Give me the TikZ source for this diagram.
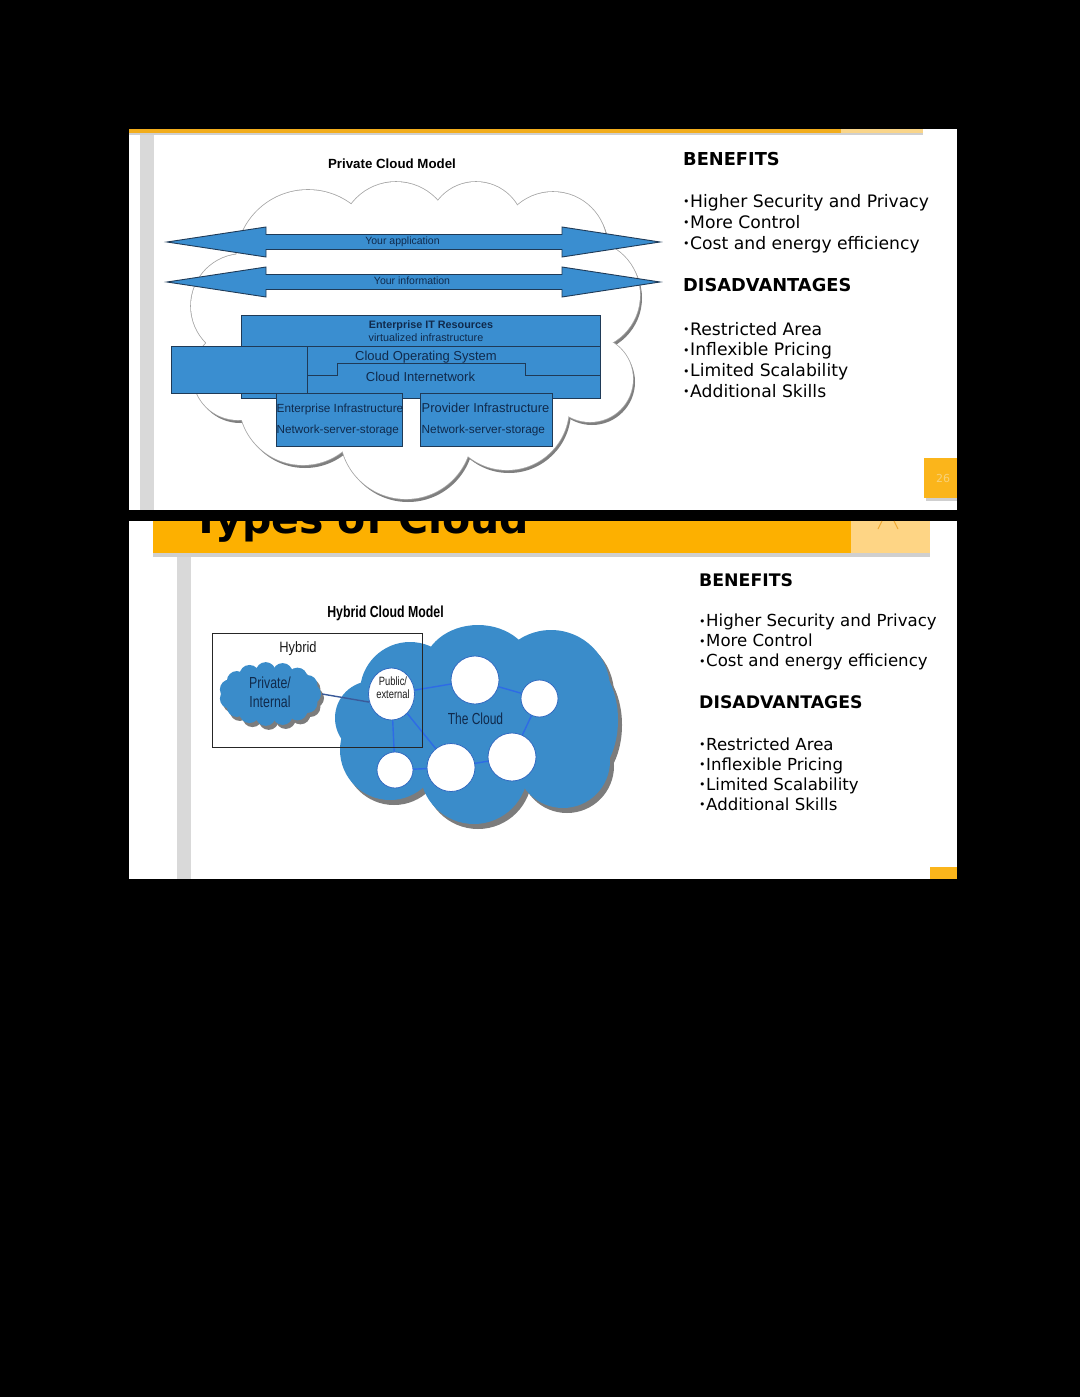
\documentclass[tikz,border=0pt]{standalone}
\usepackage{fontspec}
\usepackage{graphicx}
\setmainfont{DejaVu Sans}
\newfontfamily\arialf{Liberation Sans}
\usetikzlibrary{shapes.geometric}
\definecolor{hdr}{HTML}{FDB000}
\definecolor{hdrlt}{HTML}{FED585}
\definecolor{topline}{HTML}{F2AD1C}
\definecolor{toplinelt}{HTML}{F9D58A}
\definecolor{shad}{HTML}{CFCFCF}
\definecolor{bar}{HTML}{D9D9D9}
\definecolor{pg}{HTML}{FBB51B}
\definecolor{pgtxt}{HTML}{F8D27A}
\definecolor{iconc}{HTML}{F0A830}
\definecolor{boxblue}{HTML}{3A8ED0}
\definecolor{boxedge}{HTML}{1F3A57}
\definecolor{navy}{HTML}{102A4C}
\definecolor{cldline}{HTML}{A6A6A6}
\definecolor{cldshad}{HTML}{7F7F7F}
\definecolor{hyblue}{HTML}{3A8CCA}
\definecolor{hyshad}{HTML}{7C7C7C}
\definecolor{connc}{HTML}{2E6BE6}
\definecolor{linkdark}{HTML}{3A5A9A}
\definecolor{circedge}{HTML}{3068C0}
\definecolor{txtdark}{HTML}{1A1A1A}
\newcommand\bu{\raisebox{0.1em}{\fontsize{11}{11}\selectfont •}\hspace{0.5pt}}
\newcommand\nrw[2]{\scalebox{#1}[1]{#2}}
\tikzset{
  lbl/.style={inner sep=0pt, anchor=base west, text=black},
  dia/.style={inner sep=0pt, anchor=base, text=navy},
  bluebox/.style={fill=boxblue, draw=boxedge, line width=0.9pt},
  wcirc/.style={circle, fill=white, draw=circedge, line width=0.8pt, inner sep=0pt},
  wellip/.style={ellipse, fill=white, draw=circedge, line width=0.8pt, inner sep=0pt},
  link/.style={draw=connc, line width=1.4pt},
  listfontA/.style={font=\fontsize{17.2}{20}\selectfont},
  headfontA/.style={font=\bfseries\fontsize{17.8}{20}\selectfont},
  listfontB/.style={font=\fontsize{16.6}{20}\selectfont},
  headfontB/.style={font=\bfseries\fontsize{17.3}{20}\selectfont},
}
\def\cloudone{308/262/72, 396/238/56, 476/230/48, 553/246/54, 585/295/55, 590/379/43, 507/408/62, 406/433/66, 303/401/64, 238/375/45, 243/306/52}
\def\hybc{410/692/50, 372/718/37, 390/750/50, 551/689/59, 563/761/47, 474/770/54}
\begin{document}
\begin{tikzpicture}[x=1pt,y=-1pt]
\useasboundingbox (0,0) rectangle (1080,1397);
\fill[black] (0,0) rectangle (1080,1397);

%% ================= SLIDE 2 frame =================
\fill[white] (129,521) rectangle (957,879);
\fill[hdr] (153,521) rectangle (851,553);
\fill[hdrlt] (851,521) rectangle (930,553);
\fill[shad] (153,553) rectangle (930,557);
\begin{scope}
  \clip (129,521) rectangle (957,557);
  \node[lbl, font=\bfseries\fontsize{41}{41}\selectfont] (title2) at (192,533) {Types of Cloud};
\end{scope}
\draw[iconc, line width=1pt] (882,521) -- (878,529) (894,521) -- (898,529);
\fill[bar] (177,557) rectangle (191,879);
\fill[pg] (930,867) rectangle (957,879);

%% hybrid diagram
\node[dia, text=black, font=\arialf\bfseries\fontsize{16}{18}\selectfont] (t2) at (385.5,617) {\nrw{0.77}{Hybrid Cloud Model}};

% big blue cloud
\begin{scope}[shift={(4,5)}]
  \foreach \x/\y/\r in \hybc {\fill[hyshad] (\x,\y) circle[radius=\r pt];}
  \fill[hyshad] (582,720) circle[x radius=36pt, y radius=60pt];
  \fill[hyshad] (478,670) circle[x radius=55pt, y radius=45pt];
  \fill[hyshad] (480,725) circle[x radius=100pt, y radius=60pt];
\end{scope}
\foreach \x/\y/\r in \hybc {\fill[hyblue] (\x,\y) circle[radius=\r pt];}
\fill[hyblue] (582,720) circle[x radius=36pt, y radius=60pt];
\fill[hyblue] (478,670) circle[x radius=55pt, y radius=45pt];
\fill[hyblue] (480,725) circle[x radius=100pt, y radius=60pt];

% private cloud
\begin{scope}[shift={(3,4)}]
  \foreach \a in {0,24,...,336} {\fill[hyshad] ({270+41*cos(\a)},{694+22*sin(\a)}) circle[radius=10pt];}
  \fill[hyshad] (270,694) circle[x radius=44pt, y radius=24pt];
\end{scope}
\foreach \a in {0,24,...,336} {\fill[hyblue] ({270+41*cos(\a)},{694+22*sin(\a)}) circle[radius=10pt];}
\fill[hyblue] (270,694) circle[x radius=44pt, y radius=24pt];
\node[ellipse, minimum width=104pt, minimum height=62pt, inner sep=0pt] (priv) at (270,694) {};
\node[dia, font=\arialf\fontsize{16}{19}\selectfont] (pvt1) at (270,688) {\nrw{0.77}{Private/}};
\node[dia, font=\arialf\fontsize{16}{19}\selectfont] (pvt2) at (270,707) {\nrw{0.77}{Internal}};

% white circles
\node[wellip, minimum width=46pt, minimum height=52pt] (pub) at (391.5,694) {};
\node[wcirc, minimum size=48pt] (ca) at (475,680) {};
\node[wcirc, minimum size=37pt] (cb) at (539.5,698.5) {};
\node[wcirc, minimum size=48pt] (cc) at (512,757) {};
\node[wcirc, minimum size=48pt] (cd) at (451,767.5) {};
\node[wcirc, minimum size=36pt] (ce) at (395,770) {};
\node[dia, text=txtdark, font=\arialf\fontsize{12}{13}\selectfont] (pubt1) at (393,685) {\nrw{0.78}{Public/}};
\node[dia, text=txtdark, font=\arialf\fontsize{12}{13}\selectfont] (pubt2) at (393,698) {\nrw{0.78}{external}};
\node[dia, font=\arialf\fontsize{16}{18}\selectfont] (tcl) at (475.5,724) {\nrw{0.75}{The Cloud}};

\draw[link] (pub) -- (ca);
\draw[link] (ca) -- (cb);
\draw[link] (cb) -- (cc);
\draw[link] (cc) -- (cd);
\draw[link] (cd) -- (pub);
\draw[link] (ce) -- (cd);
\draw[link] (ce) -- (pub);
\draw[link, draw=linkdark] (priv.east) -- (pub.200);

\draw[black!85, line width=0.9pt] (212,633) rectangle (422,747);
\node[dia, text=txtdark, font=\arialf\fontsize{15}{16}\selectfont] (hyb) at (298,652) {\nrw{0.86}{Hybrid}};

% slide 2 text
\node[lbl, headfontB] (ben2) at (699,586) {BENEFITS};
\foreach \t [count=\i] in {Higher Security and Privacy, More Control, Cost and energy efficiency}
  {\node[lbl, listfontB] (ben2-\i) at (699,{626.7+(\i-1)*20}) {\bu\t};}
\node[lbl, headfontB] (dis2) at (699,708) {DISADVANTAGES};
\foreach \t [count=\i] in {Restricted Area, Inflexible Pricing, Limited Scalability, Additional Skills}
  {\node[lbl, listfontB] (dis2-\i) at (699,{750+(\i-1)*20}) {\bu\t};}

%% ================= SLIDE 1 =================
\fill[white] (129,129) rectangle (957,510);
\fill[topline] (129,129) rectangle (841,133);
\fill[toplinelt] (841,129) rectangle (923,133);
\fill[shad] (129,133) rectangle (923,135);
\fill[bar] (140,135) rectangle (154,510);
\fill[shad] (926,461) rectangle (957,501);
\fill[pg] (924,458) rectangle (957,498);
\node[inner sep=0pt, text=pgtxt, font=\fontsize{11}{12}\selectfont] (pnum) at (943,478) {26};

\node[dia, text=black, font=\arialf\bfseries\fontsize{13.3}{14}\selectfont] (t1) at (392,168) {Private Cloud Model};

% cloud
\begin{scope}[shift={(2,3)}]
  \foreach \x/\y/\r in \cloudone {\fill[cldshad] (\x,\y) circle[radius=\r pt];}
\end{scope}
\foreach \x/\y/\r in \cloudone {\draw[cldline, line width=1.6pt] (\x,\y) circle[radius=\r pt];}
\foreach \x/\y/\r in \cloudone {\fill[white] (\x,\y) circle[radius=\r pt];}
\fill[white] (420,330) circle[x radius=150pt, y radius=100pt];

% double arrows
\filldraw[bluebox] (167,242) -- (266,227) -- (266,234.5) -- (562,234.5) -- (562,227) -- (660,242)
  -- (562,257) -- (562,249.5) -- (266,249.5) -- (266,257) -- cycle;
\filldraw[bluebox] (167,282) -- (266,267) -- (266,274.5) -- (562,274.5) -- (562,267) -- (660,282)
  -- (562,297) -- (562,289.5) -- (266,289.5) -- (266,297) -- cycle;
\node[dia, font=\arialf\fontsize{10.5}{12}\selectfont] (app) at (402.5,244) {Your application};
\node[dia, font=\arialf\fontsize{10.5}{12}\selectfont] (info) at (412,284) {Your information};

% stack of boxes
\filldraw[bluebox] (241,346) rectangle (600,398);
\filldraw[bluebox] (241,315) rectangle (600,346);
\filldraw[bluebox] (171,346) rectangle (307,393);
\draw[boxedge, line width=0.9pt] (307,375) -- (337,375) -- (337,363) -- (525,363) -- (525,375) -- (600,375);
\filldraw[bluebox] (276,393) rectangle (402,446);
\filldraw[bluebox] (420,393) rectangle (552,446);

\node[dia, font=\arialf\bfseries\fontsize{10.8}{12}\selectfont] (eit) at (431,328.3) {Enterprise IT Resources};
\node[dia, font=\arialf\fontsize{10.8}{12}\selectfont] (virt) at (426,341) {virtualized infrastructure};
\node[dia, font=\arialf\fontsize{13}{14}\selectfont] (cos) at (426,360) {Cloud Operating System};
\node[dia, font=\arialf\fontsize{13}{14}\selectfont] (cin) at (420.5,381.7) {Cloud Internetwork};
\node[dia, anchor=base west, font=\arialf\fontsize{11.8}{13}\selectfont] (ei1) at (276.5,412.3) {Enterprise Infrastructure};
\node[dia, anchor=base west, font=\arialf\fontsize{11.7}{13}\selectfont] (ei2) at (276.5,433.3) {Network-server-storage};
\node[dia, anchor=base west, font=\arialf\fontsize{12.9}{14}\selectfont] (pi1) at (421.5,412.3) {Provider Infrastructure};
\node[dia, anchor=base west, font=\arialf\fontsize{11.8}{13}\selectfont] (pi2) at (421.5,433.3) {Network-server-storage};

% slide 1 text
\node[lbl, headfontA] (ben1) at (683,165) {BENEFITS};
\foreach \t [count=\i] in {Higher Security and Privacy, More Control, Cost and energy efficiency}
  {\node[lbl, listfontA] (ben1-\i) at (683,{207.7+(\i-1)*20.65}) {\bu\t};}
\node[lbl, headfontA] (dis1) at (683,291.7) {DISADVANTAGES};
\foreach \t [count=\i] in {Restricted Area, Inflexible Pricing, Limited Scalability, Additional Skills}
  {\node[lbl, listfontA] (dis1-\i) at (683,{335+(\i-1)*20.9}) {\bu\t};}
\end{tikzpicture}
\end{document}
